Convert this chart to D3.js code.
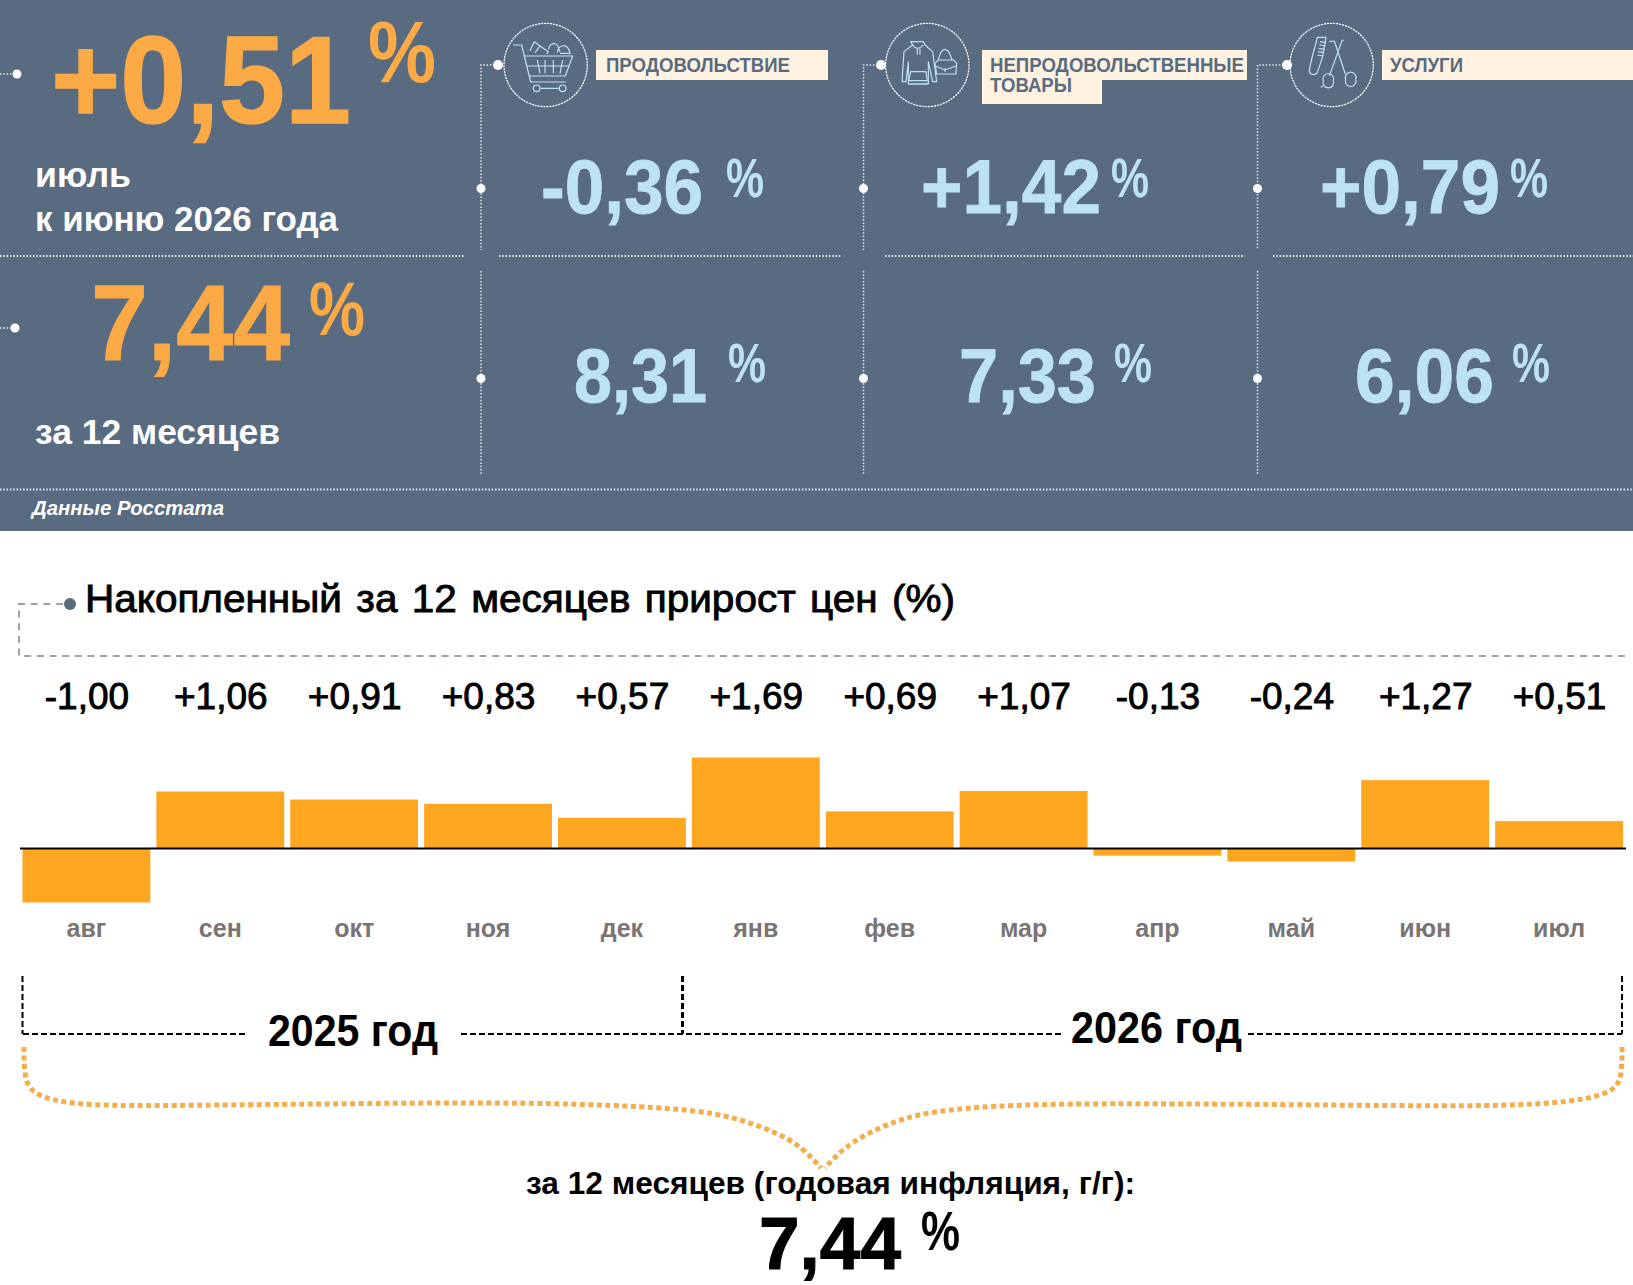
<!DOCTYPE html>
<html lang="ru">
<head>
<meta charset="utf-8">
<title>Инфляция</title>
<script src="https://cdn.jsdelivr.net/npm/d3@7"></script>
<style>
	html, body { margin: 0; padding: 0; background: #fff; }
	svg { display: block; }
	text { font-family: "Liberation Sans", Arial, sans-serif; }
</style>
</head>
<body>
<div class="svg-container"></div>
<script>
var months = ['авг', 'сен', 'окт', 'ноя', 'дек', 'янв', 'фев', 'мар', 'апр', 'май', 'июн', 'июл'];
var monthlyValues = [-1.00, 1.06, 0.91, 0.83, 0.57, 1.69, 0.69, 1.07, -0.13, -0.24, 1.27, 0.51];
var categories = ['ПРОДОВОЛЬСТВИЕ', 'НЕПРОДОВОЛЬСТВЕННЫЕ', 'УСЛУГИ'];
var monthChange = [-0.36, 1.42, 0.79];
var yearChange = [8.31, 7.33, 6.06];
var totalMonth = 0.51;
var totalYear = 7.44;
var yearLabels = ['2025 год', '2026 год'];

var width = 1633;
var height = 1285;
var slate = '#586b80';
var orange = '#fbaa45';
var barOrange = '#fea61f';
var blue = '#bde3f3';
var cream = '#fff2e0';

var svg = d3.select('.svg-container')
	.append('svg')
	.attr('width', width)
	.attr('height', height);

var signed = function(v) {
	return (v > 0 ? '+' : '-') + Math.abs(v).toFixed(2).replace('.', ',');
};
var plain = function(v) {
	return v.toFixed(2).replace('.', ',');
};

// text with the measured width of the original
var label = function(str, x, y, size, len, fill, opts) {
	opts = opts || {};
	var t = svg.append('text')
		.text(str)
		.attr('x', x)
		.attr('y', y)
		.attr('font-size', size)
		.attr('font-weight', opts.weight || 'bold')
		.attr('fill', fill);
	if (len) {
		t.attr('textLength', len).attr('lengthAdjust', 'spacingAndGlyphs');
	}
	if (opts.italic) t.attr('font-style', 'italic');
	if (opts.stroke) t.attr('stroke', fill).attr('stroke-width', opts.stroke);
	return t;
};

var dotted = function(d, w) {
	return svg.append('path')
		.attr('d', d)
		.attr('fill', 'none')
		.attr('stroke', '#fff')
		.attr('stroke-opacity', 0.85)
		.attr('stroke-width', w || 1.5)
		.attr('stroke-dasharray', '1.5 1.8');
};

var dot = function(x, y, r) {
	svg.append('circle').attr('cx', x).attr('cy', y).attr('r', r || 4.5).attr('fill', '#fff');
};

// header panel
svg.append('rect').attr('width', width).attr('height', 531).attr('fill', slate);

label(signed(totalMonth), 51, 123, 125, 300, orange, {stroke: 1.5});
label('%', 368, 82, 88, 68, orange);
label('июль', 35, 187, 35, 96, '#fff');
label('к июню 2026 года', 35, 231, 35, 303, '#fff');
label(plain(totalYear), 91, 360, 108, 199, orange, {stroke: 1});
label('%', 309, 335, 76, 56, orange);
label('за 12 месяцев', 35, 444, 35, 245, '#fff');
label('Данные Росстата', 32, 515, 21, 192, '#fff', {italic: true});

dotted('M0,74H18');
dot(17, 74);
dotted('M0,328H16');
dot(15, 328);

// divider lines
[[0, 465], [499, 842], [885, 1245], [1273, 1633]].forEach(function(s) {
	dotted('M' + s[0] + ',256H' + s[1], 2);
});
dotted('M0,489.5H1633', 2);

// three columns
var colLine = [481, 863.5, 1257.5];
var colDot = [498, 881, 1287];
var monthNumX = [541, 921, 1320];
var monthNumW = [162, 180, 180];
var monthPctX = [726, 1111, 1510];
var yearNumX = [574, 959, 1355];
var yearNumW = [133, 137, 139];
var yearPctX = [728, 1114, 1512];
var tagX = [596, 982, 1382];
var tagW = [232, 265, 251];

categories.forEach(function(c, i) {
	dotted('M' + colDot[i] + ',65H' + colLine[i] + 'V250');
	dotted('M' + colLine[i] + ',271V474');
	dot(colDot[i], 65, 5);
	dot(colLine[i], 188.5, 4.5);
	dot(colLine[i], 378.5, 4.5);

	svg.append('rect')
		.attr('x', tagX[i]).attr('y', 50)
		.attr('width', tagW[i]).attr('height', 30)
		.attr('fill', cream);

	label(signed(monthChange[i]), monthNumX[i], 213, 76, monthNumW[i], blue, {stroke: 0.8});
	label('%', monthPctX[i], 197, 55, 38, blue);
	label(plain(yearChange[i]), yearNumX[i], 402, 76, yearNumW[i], blue, {stroke: 0.8});
	label('%', yearPctX[i], 382, 55, 38, blue);
});

svg.append('rect').attr('x', 982).attr('y', 80).attr('width', 120).attr('height', 24).attr('fill', cream);
label(categories[0], 606, 72, 20, 184, slate);
label(categories[1], 990, 72, 20, 254, slate);
label('ТОВАРЫ', 990, 92, 20, 82, slate);
label(categories[2], 1390, 72, 20, 73, slate);

// icons, sketched in crop coordinates (3x)
var icon = function(ox, oy, cx, cy, r, paths) {
	var g = svg.append('g').attr('transform', 'translate(' + ox + ',' + oy + ') scale(0.3333)');
	g.append('circle')
		.attr('cx', cx).attr('cy', cy).attr('r', r)
		.attr('fill', 'none').attr('stroke', '#fff')
		.attr('stroke-width', 4).attr('stroke-dasharray', '3 6').attr('stroke-linecap', 'round');
	paths.forEach(function(d) {
		g.append('path')
			.attr('d', d)
			.attr('fill', 'none')
			.attr('stroke', blue)
			.attr('stroke-width', 3.5)
			.attr('stroke-linejoin', 'round');
	});
};

icon(480, 10, 197, 165, 125, [
	'M100,105H125L152,216H258',
	'M133,138H278L256,198H147',
	'M140,168H268M172,150L180,190M195,150V190M220,150V190M248,150L240,190',
	'M150,122L163,95L180,108L165,128M180,108L205,125L200,132',
	'M205,118C212,95 228,100 232,105L240,125M232,128C235,105 262,95 270,130H240',
	'M180,235a10,10 0 1,1 -20,0a10,10 0 1,1 20,0M258,235a10,10 0 1,1 -20,0a10,10 0 1,1 20,0M180,235H238'
]);

icon(870, 10, 172, 165, 125, [
	'M128,105L122,95H160L165,105L188,125L200,215H188L175,155V222H115V155L108,215H96L102,125Z',
	'M128,105C135,118 150,118 160,105M142,116V134M150,116V134',
	'M122,185H168L172,212H116ZM115,222H175',
	'M205,150C210,130 215,118 224,118C234,118 242,135 246,150',
	'M195,160L200,192H258L260,160L250,150H205ZM196,168L225,180L258,168M225,175V186'
]);

icon(1270, 10, 185, 165, 125, [
	'M142,82H168L158,140L142,188C135,198 118,195 118,182C122,150 135,115 142,82Z',
	'M150,95L168,98M148,105L166,108M146,115L164,118M144,125L162,128M142,135L160,138',
	'M178,95L193,93L226,192M222,90L216,92L178,198',
	'M190,212a16,16 0 1,1 -30,0a16,16 0 1,1 30,0M257,208a16,16 0 1,1 -30,0a16,16 0 1,1 30,0',
	'M160,228L152,232'
]);

// bar chart
var x = d3.scaleBand()
	.domain(months)
	.range([22.5, 1623])
	.paddingInner(0.045);

var y = d3.scaleLinear()
	.domain([-1, 1.69])
	.range([902.5, 757.5]);

var pts = function(list) {
	return list.map(function(p) { return p.join(','); }).join(' ');
};

svg.append('circle').attr('cx', 70).attr('cy', 604).attr('r', 6).attr('fill', slate);
svg.append('polyline')
	.attr('points', pts([[63, 604], [19, 604], [19, 656], [1625, 656]]))
	.attr('fill', 'none')
	.attr('stroke', '#7a8794')
	.attr('stroke-width', 1.5)
	.attr('stroke-dasharray', '7 5.65');

label('Накопленный за 12 месяцев прирост цен (%)', 85, 612, 39, 870, '#000', {weight: 'normal', stroke: 0.9})
	.attr('word-spacing', 3);

svg.selectAll('.value')
	.data(monthlyValues)
	.enter()
	.append('text')
	.attr('class', 'value')
	.attr('x', function(d, i) { return x(months[i]) + x.bandwidth() / 2 + 0.5; })
	.attr('y', 709)
	.attr('text-anchor', 'middle')
	.attr('font-size', 37)
	.attr('stroke', '#000')
	.attr('stroke-width', 0.9)
	.text(signed);

svg.selectAll('.bar')
	.data(monthlyValues)
	.enter()
	.append('rect')
	.attr('class', 'bar')
	.attr('x', function(d, i) { return x(months[i]); })
	.attr('y', function(d) { return y(Math.max(0, d)); })
	.attr('width', x.bandwidth())
	.attr('height', function(d) { return Math.abs(y(d) - y(0)); })
	.attr('fill', barOrange);

svg.append('line')
	.attr('x1', 20).attr('x2', 1626)
	.attr('y1', y(0)).attr('y2', y(0))
	.attr('stroke', '#000').attr('stroke-width', 2);

var xAxis = d3.axisBottom(x).tickSize(0).tickPadding(0);
var monthAxis = svg.append('g')
	.attr('transform', 'translate(0,919)')
	.call(xAxis);
monthAxis.select('.domain').remove();
monthAxis.selectAll('text')
	.attr('font-family', '"Liberation Sans", Arial, sans-serif')
	.attr('font-size', 25)
	.attr('font-weight', 'bold')
	.attr('fill', '#7a7474');

// year brackets
var bracket = function(d) {
	return svg.append('path')
		.attr('d', d)
		.attr('fill', 'none')
		.attr('stroke', '#000')
		.attr('stroke-width', 2)
		.attr('stroke-dasharray', '6 3');
};
bracket('M22.5,976V1034');
bracket('M682.5,976V1034').attr('stroke-width', 3);
bracket('M1622,976V1034');
bracket('M23,1034H246');
bracket('M461,1034H1062');
bracket('M1248,1034H1622');

label(yearLabels[0], 268, 1046, 44, 170, '#000');
label(yearLabels[1], 1071, 1043, 44, 171, '#000');

var brace = d3.line().curve(d3.curveBasis);
var braceLeft = [[24, 1047], [24, 1073], [30, 1095], [73, 1105], [146, 1106], [312, 1104], [521, 1102], [667, 1107], [729, 1115], [776, 1132], [802, 1147], [821, 1168]];
var braceRight = [[1622, 1047], [1622, 1073], [1616, 1095], [1542, 1106], [1400, 1106], [1042, 1102], [937, 1110], [896, 1120], [849, 1142], [825, 1168]];
[braceLeft, braceRight].forEach(function(b) {
	svg.append('path')
		.attr('d', brace(b))
		.attr('fill', 'none')
		.attr('stroke', '#f4ae4b')
		.attr('stroke-width', 5)
		.attr('stroke-dasharray', '5 3.5');
});

label('за 12 месяцев (годовая инфляция, г/г):', 526, 1194, 31, 609, '#000');
label(plain(totalYear), 759, 1269, 74, 142, '#000', {stroke: 1});
label('%', 921, 1250, 56, 39, '#000');
</script>
</body>
</html>
